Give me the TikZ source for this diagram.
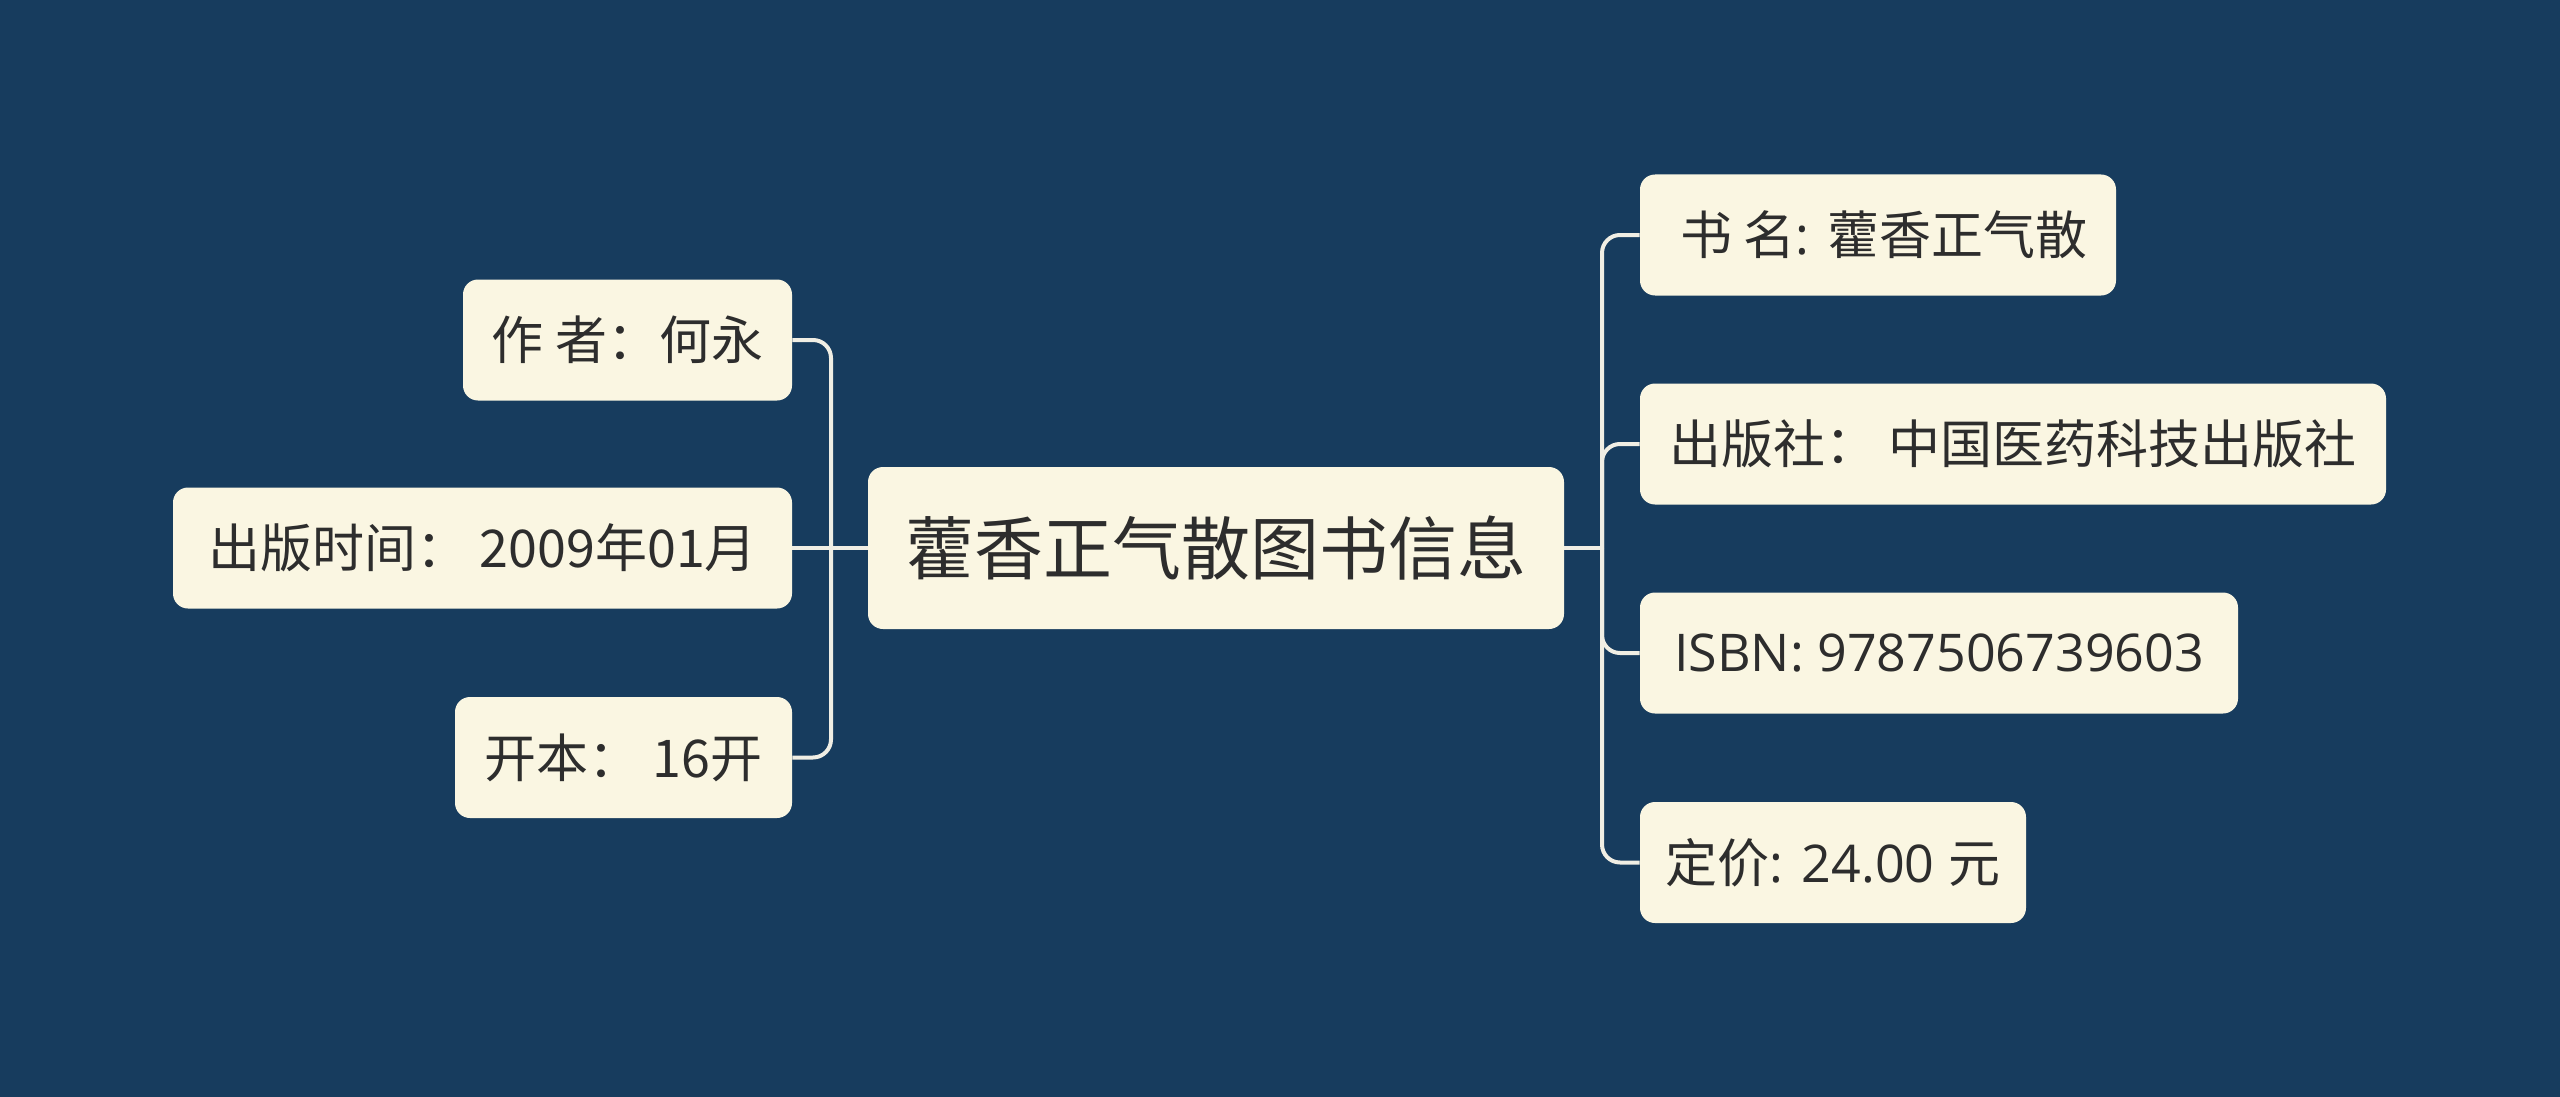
\documentclass[tikz,border=0pt]{standalone}
\usepackage{fontspec}
\setmainfont{Noto Sans CJK SC}
\newfontfamily\lat{Open Sans}
\definecolor{bgc}{RGB}{23,60,94}
\definecolor{cream}{RGB}{250,246,226}
\definecolor{linec}{RGB}{240,238,228}
\definecolor{txt}{RGB}{45,45,45}
\tikzset{
  box/.style={draw=none, fill=cream, rounded corners=7.5pt, inner sep=0pt, text=txt, anchor=center},
  leaf/.style={box, minimum height=60.5pt, font=\fontsize{26}{30}\selectfont},
  root/.style={box, minimum height=81pt, font=\fontsize{34.5}{40}\selectfont},
  conn/.style={draw=linec, line width=2pt, rounded corners=9pt}
}
\begin{document}
\begin{tikzpicture}[x=0.5pt, y=-0.5pt]
\fill[bgc] (0,0) rectangle (2560,1097);
\useasboundingbox (0,0) rectangle (2560,1097);
\node[root, minimum width=348pt] (c) at (1216,548) {藿香正气散图书信息};
\node[leaf, minimum width=164.5pt] (a1) at (627.5,340) {作 者：何永};
\node[leaf, minimum width=309.5pt] (a2) at (482.5,548) {出版时间： 2009年01月};
\node[leaf, minimum width=168.5pt] (a3) at (623.5,757.5) {开本： 16开};
\node[leaf, minimum width=238pt] (b1) at (1878,235) {\ 书 名{\lat: }藿香正气散};
\node[leaf, minimum width=373pt] (b2) at (2013,444) {出版社：\ 中国医药科技出版社};
\node[leaf, minimum width=299pt] (b3) at (1939,653) {\lat ISBN: 9787506739603\hspace{6pt}};
\node[leaf, minimum width=193pt] (b4) at (1833,862.5) {定价{\lat: 24.00 }元};
\coordinate (lj) at (831,548);
\coordinate (rj) at (1602,548);
\draw[conn] (a1.east) -| (lj);
\draw[conn] (a3.east) -| (lj);
\draw[conn] (a2.east) -- (c.west);
\draw[conn] (c.east) -- (rj);
\draw[conn] (rj) |- (b1.west);
\draw[conn] (rj) |- (b2.west);
\draw[conn] (rj) |- (b3.west);
\draw[conn] (rj) |- (b4.west);
\end{tikzpicture}
\end{document}
